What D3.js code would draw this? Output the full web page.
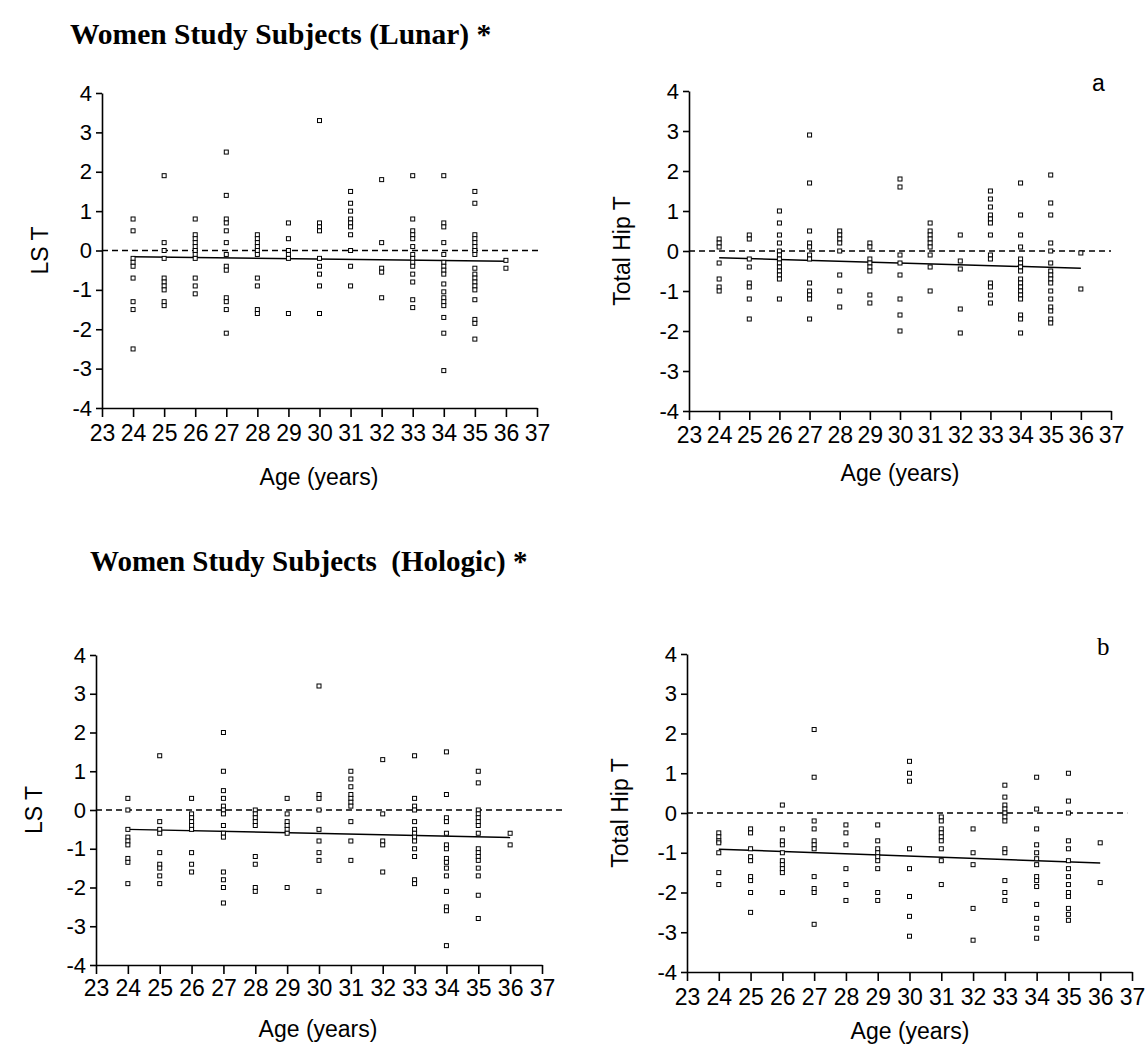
<!DOCTYPE html>
<html>
<head>
<meta charset="utf-8">
<script src="https://cdn.jsdelivr.net/npm/d3@7"></script>
<style>
  body { margin: 0; background: #fff; }
  svg { display: block; }
  .tick text { font-family: "Liberation Sans", Arial, sans-serif; fill: #000; }
</style>
</head>
<body>
<svg id="chart" width="1146" height="1045"></svg>
<script>
// ages on the x axis (one column of points per age)
var ages = [24, 25, 26, 27, 28, 29, 30, 31, 32, 33, 34, 35, 36];
var xTicks = [23, 24, 25, 26, 27, 28, 29, 30, 31, 32, 33, 34, 35, 36, 37];
var yTicks = [-4, -3, -2, -1, 0, 1, 2, 3, 4];

// T scores, one array per age
var lunarLS = [
  [0.8, 0.5, -0.2, -0.3, -0.4, -0.7, -1.3, -1.5, -2.5],
  [1.9, 0.2, 0.0, -0.2, -0.7, -0.8, -0.9, -1.0, -1.3, -1.4],
  [0.8, 0.4, 0.3, 0.2, 0.1, 0.0, -0.1, -0.2, -0.7, -0.9, -1.1],
  [2.5, 1.4, 0.8, 0.7, 0.5, 0.2, -0.1, -0.4, -0.5, -1.2, -1.3, -1.5, -2.1],
  [0.4, 0.3, 0.2, 0.1, 0.0, -0.1, -0.7, -0.9, -1.5, -1.6],
  [0.7, 0.3, 0.0, -0.1, -0.2, -1.6],
  [3.3, 0.7, 0.6, 0.5, -0.2, -0.4, -0.6, -0.9, -1.6],
  [1.5, 1.2, 1.0, 0.8, 0.7, 0.6, 0.4, 0.0, -0.4, -0.9],
  [1.8, 0.2, -0.45, -0.55, -1.2],
  [1.9, 0.8, 0.5, 0.4, 0.3, 0.1, -0.1, -0.2, -0.3, -0.4, -0.6, -0.8, -1.25, -1.45],
  [1.9, 0.7, 0.6, 0.2, -0.1, -0.3, -0.4, -0.5, -0.6, -0.85, -1.05, -1.2, -1.3, -1.4, -1.7, -2.1, -3.05],
  [1.5, 1.2, 0.4, 0.3, 0.2, 0.1, 0.0, -0.1, -0.45, -0.6, -0.7, -0.8, -0.9, -1.0, -1.25, -1.75, -1.85, -2.25],
  [-0.25, -0.45]
];
var lunarHip = [
  [0.3, 0.2, 0.1, -0.3, -0.7, -0.9, -1.0],
  [0.4, 0.3, -0.2, -0.4, -0.8, -0.9, -1.2, -1.7],
  [1.0, 0.7, 0.4, 0.2, 0.0, -0.1, -0.2, -0.3, -0.4, -0.5, -0.6, -0.7, -1.2],
  [2.9, 1.7, 0.5, 0.2, 0.1, -0.1, -0.2, -0.8, -1.0, -1.1, -1.2, -1.7],
  [0.5, 0.4, 0.3, 0.2, 0.0, -0.6, -1.0, -1.4],
  [0.2, 0.1, -0.2, -0.3, -0.4, -0.5, -1.1, -1.3],
  [1.8, 1.6, -0.1, -0.3, -0.6, -1.2, -1.6, -2.0],
  [0.7, 0.5, 0.4, 0.3, 0.2, 0.1, -0.1, -0.4, -1.0],
  [0.4, -0.25, -0.45, -1.45, -2.05],
  [1.5, 1.3, 1.1, 0.9, 0.8, 0.7, 0.4, -0.1, -0.2, -0.8, -0.9, -1.1, -1.3],
  [1.7, 0.9, 0.4, 0.1, -0.2, -0.3, -0.4, -0.5, -0.7, -0.8, -0.9, -1.0, -1.1, -1.2, -1.6, -1.7, -2.05],
  [1.9, 1.2, 0.9, 0.2, 0.0, -0.3, -0.5, -0.6, -0.7, -0.8, -1.0, -1.2, -1.4, -1.5, -1.7, -1.8],
  [-0.05, -0.95]
];
var hologicLS = [
  [0.3, 0.0, -0.5, -0.7, -0.8, -0.9, -1.25, -1.35, -1.9],
  [1.4, -0.3, -0.5, -0.6, -1.1, -1.4, -1.5, -1.7, -1.9],
  [0.3, -0.1, -0.2, -0.3, -0.4, -0.5, -1.1, -1.4, -1.6],
  [2.0, 1.0, 0.5, 0.3, 0.1, 0.0, -0.1, -0.4, -0.6, -0.7, -1.6, -1.8, -2.0, -2.4],
  [0.0, -0.1, -0.2, -0.3, -0.4, -1.2, -1.4, -2.0, -2.1],
  [0.3, -0.1, -0.3, -0.4, -0.5, -0.6, -2.0],
  [3.2, 0.4, 0.3, 0.0, -0.5, -0.8, -1.1, -1.3, -2.1],
  [1.0, 0.8, 0.6, 0.4, 0.3, 0.2, 0.1, -0.3, -0.8, -1.3],
  [1.3, -0.1, -0.8, -0.9, -1.6],
  [1.4, 0.3, 0.1, 0.0, -0.3, -0.5, -0.6, -0.7, -0.8, -1.0, -1.2, -1.8, -1.9],
  [1.5, 0.4, -0.2, -0.3, -0.6, -0.9, -1.0, -1.25, -1.35, -1.5, -1.7, -2.1, -2.5, -2.6, -3.5],
  [1.0, 0.7, 0.0, -0.1, -0.2, -0.3, -0.4, -0.6, -1.0, -1.1, -1.2, -1.3, -1.5, -1.7, -2.2, -2.8],
  [-0.6, -0.9]
];
var hologicHip = [
  [-0.5, -0.6, -0.7, -0.75, -1.0, -1.5, -1.8],
  [-0.4, -0.5, -0.9, -1.1, -1.2, -1.6, -1.7, -2.0, -2.5],
  [0.2, -0.4, -0.7, -0.8, -1.0, -1.2, -1.3, -1.4, -1.5, -2.0],
  [2.1, 0.9, -0.2, -0.4, -0.7, -0.8, -0.9, -1.6, -1.9, -2.0, -2.8],
  [-0.3, -0.5, -0.8, -1.4, -1.8, -2.2],
  [-0.3, -0.7, -0.9, -1.0, -1.1, -1.2, -1.4, -2.0, -2.2],
  [1.3, 1.0, 0.8, -0.9, -1.4, -2.1, -2.6, -3.1],
  [-0.1, -0.2, -0.4, -0.5, -0.6, -0.7, -0.9, -1.2, -1.8],
  [-0.4, -1.0, -1.3, -2.4, -3.2],
  [0.7, 0.4, 0.2, 0.1, 0.0, -0.1, -0.2, -0.9, -1.0, -1.7, -2.0, -2.2],
  [0.9, 0.1, -0.4, -0.8, -1.0, -1.15, -1.3, -1.6, -1.7, -1.85, -2.3, -2.65, -2.9, -3.15],
  [1.0, 0.3, 0.0, -0.7, -0.9, -1.2, -1.4, -1.6, -1.8, -2.0, -2.1, -2.4, -2.55, -2.7],
  [-0.75, -1.75]
];

// regression lines: fitted T at the first and last age
var fitAges = [24, 36];
var fitLunarLS = [-0.16, -0.27];
var fitLunarHip = [-0.17, -0.43];
var fitHologicLS = [-0.50, -0.71];
var fitHologicHip = [-0.91, -1.26];

var svg = d3.select("#chart");
var sans = "'Liberation Sans', Arial, sans-serif";
var serif = "'Liberation Serif', 'Times New Roman', serif";

function drawPanel(p) {
    var x = d3.scaleLinear().domain([23, 37]).range([p.left, p.right]);
    var y = d3.scaleLinear().domain([-4, 4]).range([p.bottom, p.top]);
    var g = svg.append("g");

    var xa = g.append("g")
        .attr("transform", "translate(0," + p.bottom + ")")
        .call(d3.axisBottom(x).tickValues(xTicks).tickSize(9).tickSizeOuter(0).tickPadding(p.xPad));
    xa.selectAll("text").attr("font-size", 23).style("font-family", sans);

    // plain hyphen for negatives, as in the original
    var ya = g.append("g")
        .attr("transform", "translate(" + p.left + ",0)")
        .call(d3.axisLeft(y).tickValues(yTicks).tickSize(6).tickSizeOuter(0).tickPadding(4)
            .tickFormat(function(d) { return String(d); }));
    ya.selectAll("text").attr("font-size", 22).style("font-family", sans);

    g.selectAll(".domain, .tick line").attr("stroke", "#000").attr("stroke-width", 1.6);

    // reference line at T = 0
    g.append("line")
        .attr("x1", x(23)).attr("x2", x(p.dashEnd))
        .attr("y1", y(0)).attr("y2", y(0))
        .attr("stroke", "#000").attr("stroke-width", 1.5)
        .attr("stroke-dasharray", "6,4");

    // regression line
    g.append("line")
        .attr("x1", x(fitAges[0])).attr("x2", x(fitAges[1]))
        .attr("y1", y(p.fit[0])).attr("y2", y(p.fit[1]))
        .attr("stroke", "#000").attr("stroke-width", 1.5);

    var pts = [];
    ages.forEach(function(a, i) {
        p.data[i].forEach(function(v) { pts.push({age: a, t: v}); });
    });
    g.selectAll("rect.pt").data(pts).enter().append("rect")
        .attr("class", "pt")
        .attr("x", function(d) { return x(d.age) - 2; })
        .attr("y", function(d) { return y(d.t) - 2; })
        .attr("width", 4).attr("height", 4)
        .attr("fill", "#fff").attr("stroke", "#000").attr("stroke-width", 1);

    g.append("text")
        .attr("transform", "translate(" + p.yTitleX + "," + ((p.top + p.bottom) / 2) + ") rotate(-90)")
        .attr("text-anchor", "middle")
        .attr("font-family", sans).attr("font-size", 23)
        .text(p.yTitle);

    g.append("text")
        .attr("x", p.xTitleX).attr("y", p.xTitleY)
        .attr("text-anchor", "middle")
        .attr("font-family", sans).attr("font-size", 23)
        .text("Age (years)");
}

svg.append("text").attr("x", 70).attr("y", 44)
    .attr("font-family", serif).attr("font-weight", "bold").attr("font-size", 29.5)
    .text("Women Study Subjects (Lunar) *");
svg.append("text").attr("x", 90).attr("y", 571)
    .attr("font-family", serif).attr("font-weight", "bold").attr("font-size", 29)
    .style("white-space", "pre")
    .text("Women Study Subjects  (Hologic) *");

svg.append("text").attr("x", 1092).attr("y", 91)
    .attr("font-family", sans).attr("font-size", 23).text("a");
svg.append("text").attr("x", 1097).attr("y", 655)
    .attr("font-family", serif).attr("font-size", 25).text("b");

drawPanel({left: 102, right: 537, top: 93, bottom: 408, xPad: 8, dashEnd: 37.1,
    data: lunarLS, fit: fitLunarLS, yTitle: "LS T", yTitleX: 48, xTitleX: 319, xTitleY: 485});
drawPanel({left: 689, right: 1111, top: 91, bottom: 411, xPad: 7, dashEnd: 37,
    data: lunarHip, fit: fitLunarHip, yTitle: "Total Hip T", yTitleX: 630, xTitleX: 900, xTitleY: 481});
drawPanel({left: 96, right: 542, top: 655, bottom: 965, xPad: 6, dashEnd: 37.7,
    data: hologicLS, fit: fitHologicLS, yTitle: "LS T", yTitleX: 42, xTitleX: 318, xTitleY: 1037});
drawPanel({left: 687, right: 1132, top: 654, bottom: 972, xPad: 8, dashEnd: 36.85,
    data: hologicHip, fit: fitHologicHip, yTitle: "Total Hip T", yTitleX: 628, xTitleX: 910, xTitleY: 1039});
</script>
</body>
</html>
